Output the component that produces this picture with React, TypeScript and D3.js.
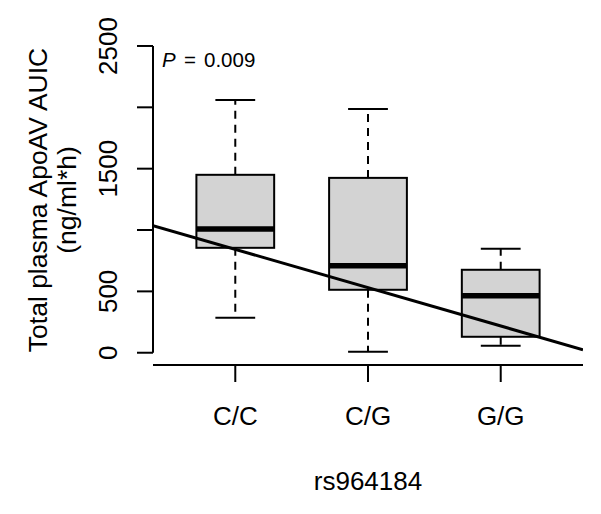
import React from "react";
import * as d3 from "d3";

const categories = ["C/C", "C/G", "G/G"];
const whiskerLow = [285, 8, 57];
const q1 = [855, 513, 130];
const median = [1008, 708, 464];
const q3 = [1450, 1425, 676];
const whiskerHigh = [2060, 1987, 847];
const yTicks = [0, 500, 1000, 1500, 2000, 2500];
const yTickLabels = ["0", "500", "", "1500", "", "2500"];
const regIntercept = 1154;
const regSlope = -312;
const pLabel = "0.009";

const W = 601;
const H = 514;
const FONT = "'Liberation Sans', Arial, Helvetica, sans-serif";

export default function App() {
  const x = d3.scaleLinear().domain([0.38, 3.62]).range([153, 583]);
  const y = d3.scaleLinear().domain([-100, 2600]).range([365, 33.7]);
  const halfW = 0.293;
  const capHalf = 0.15;

  const regLine = d3
    .line<number>()
    .x((d) => x(d))
    .y((d) => y(regIntercept + regSlope * d));

  return (
    <svg
      width={W}
      height={H}
      style={{ position: "absolute", left: 0, top: 0, background: "#fff" }}
      fontFamily={FONT}
    >
      <defs>
        <clipPath id="plotclip">
          <rect x={x(0.38)} y={y(2600)} width={x(3.62) - x(0.38)} height={y(-100) - y(2600)} />
        </clipPath>
      </defs>
      {categories.map((c, i) => {
        const cx = x(i + 1);
        return (
          <g key={c}>
            <line x1={cx} x2={cx} y1={y(q3[i])} y2={y(whiskerHigh[i])} stroke="#000" strokeWidth={2} strokeDasharray="8,6" />
            <line x1={cx} x2={cx} y1={y(q1[i])} y2={y(whiskerLow[i])} stroke="#000" strokeWidth={2} strokeDasharray="8,6" />
            <line x1={x(i + 1 - capHalf)} x2={x(i + 1 + capHalf)} y1={y(whiskerHigh[i])} y2={y(whiskerHigh[i])} stroke="#000" strokeWidth={2} />
            <line x1={x(i + 1 - capHalf)} x2={x(i + 1 + capHalf)} y1={y(whiskerLow[i])} y2={y(whiskerLow[i])} stroke="#000" strokeWidth={2} />
            <rect
              x={x(i + 1 - halfW)}
              y={y(q3[i])}
              width={x(i + 1 + halfW) - x(i + 1 - halfW)}
              height={y(q1[i]) - y(q3[i])}
              fill="#d3d3d3"
              stroke="#000"
              strokeWidth={2}
            />
            <line x1={x(i + 1 - halfW)} x2={x(i + 1 + halfW)} y1={y(median[i])} y2={y(median[i])} stroke="#000" strokeWidth={5.5} />
          </g>
        );
      })}
      <path d={regLine([0.38, 3.62]) || ""} stroke="#000" strokeWidth={3} fill="none" clipPath="url(#plotclip)" />
      <line x1={153} x2={153} y1={y(0)} y2={y(2500)} stroke="#000" strokeWidth={2} />
      {yTicks.map((t, i) => (
        <g key={t}>
          <line x1={137} x2={153} y1={y(t)} y2={y(t)} stroke="#000" strokeWidth={2} />
          {yTickLabels[i] && (
            <text transform={`translate(117,${y(t)}) rotate(-90)`} textAnchor="middle" fontSize={26} fill="#000">
              {yTickLabels[i]}
            </text>
          )}
        </g>
      ))}
      <line x1={x(0.38)} x2={x(3.62)} y1={365} y2={365} stroke="#000" strokeWidth={2} />
      {categories.map((c, i) => (
        <g key={c}>
          <line x1={x(i + 1)} x2={x(i + 1)} y1={365} y2={382} stroke="#000" strokeWidth={2} />
          <text x={x(i + 1)} y={425} textAnchor="middle" fontSize={26} fill="#000">
            {c}
          </text>
        </g>
      ))}
      <text x={x(2)} y={490} textAnchor="middle" fontSize={26} fill="#000">
        rs964184
      </text>
      <text transform={`translate(47,200) rotate(-90)`} textAnchor="middle" fontSize={26.5} fill="#000">
        Total plasma ApoAV AUIC
      </text>
      <text transform={`translate(76,200) rotate(-90)`} textAnchor="middle" fontSize={26.5} fill="#000">
        (ng/ml*h)
      </text>
      <text x={162} y={67} fontSize={20.5} fill="#000">
        <tspan fontStyle="italic">P</tspan>
        <tspan x={184}>=</tspan>
        <tspan x={204}>{pLabel}</tspan>
      </text>
    </svg>
  );
}
